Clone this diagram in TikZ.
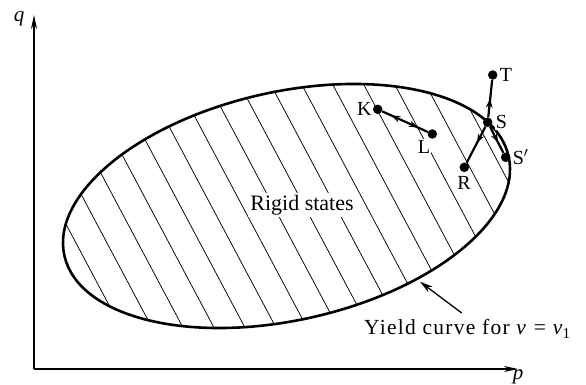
\documentclass[tikz,border=0pt]{standalone}
\usepackage{fontspec}
\setmainfont{Liberation Serif}
\newfontfamily\widefont[LetterSpace=6]{Liberation Serif}
\usetikzlibrary{arrows.meta,decorations.markings}
\begin{document}
\begin{tikzpicture}[x=1pt,y=1pt,
  dot/.style={circle,fill=black,inner sep=0pt,minimum size=9.5pt},
  ptlabel/.style={font=\fontsize{20}{22}\selectfont,inner sep=1pt,fill=white},
  hatch/.style={line width=0.75pt},
  curve/.style={line width=2.6pt},
  axis/.style={line width=1.6pt,-{Stealth[length=14pt,width=6pt]}},
  move/.style={line width=2.2pt}
]
\useasboundingbox (0,0) rectangle (586,385);
% axes
\coordinate (O) at (34,16);
\coordinate (qend) at (34,370);
\coordinate (pend) at (518,16);
\draw[axis] (O) -- (qend);
\draw[axis] (O) -- (pend);
\node[font=\fontsize{21}{23}\selectfont\itshape] (qlab) at (19,366) {q};
\node[font=\fontsize{21}{23}\selectfont\itshape] (plab) at (518,8) {p};
% hatching
\begin{scope}
  \clip[rotate around={12.6:(286.5,179)}] (286.5,179) ellipse [x radius=227.6, y radius=114.2];
  \foreach \k in {-6,...,19} {
    \draw[hatch] ({126.7+31*\k-148.9},385) -- ({126.7+31*\k+55.8},0);
  }
\end{scope}
% yield curve
\draw[curve,rotate around={12.6:(286.5,179)}] (286.5,179) ellipse [x radius=227.6, y radius=114.2];
% labels
\node[font=\fontsize{22}{26}\selectfont,fill=white,inner sep=2pt] (rigid) at (302,180) {Rigid states};
\node[font=\fontsize{21.5}{26}\widefont,anchor=base west,inner sep=0pt] (yield) at (364,50) {Yield curve for \textit{v} = \textit{v}\kern-1pt\textsubscript{1}};
\coordinate (ptail) at (461.7,72);
\coordinate (ptip) at (420,103.3);
\draw[line width=1.3pt,-{Stealth[length=13pt,width=7pt]}] (ptail) -- (ptip);
% points
\node[dot] (K) at (377.7,275.7) {};
\node[dot] (L) at (432.3,251) {};
\node[dot] (T) at (492.7,310) {};
\node[dot] (S) at (487.7,262.7) {};
\node[dot] (S2) at (505.7,227.7) {};
\node[dot] (R) at (464.3,217.7) {};
\node[ptlabel,anchor=east] (Klab) at (K.west) {K};
\node[ptlabel] (Llab) at (424,238) {L};
\node[ptlabel,anchor=west] (Tlab) at ([xshift=1pt]T.east) {T};
\node[ptlabel,anchor=west] (Slab) at ([xshift=2pt]S.east) {S};
\node[ptlabel,anchor=west] (S2lab) at ([xshift=1pt]S2.east) {S$'$};
\node[ptlabel] (Rlab) at (464,202) {R};
% moves
\draw[move,postaction={decorate},decoration={markings,
   mark=at position 0.38 with {\arrow{Stealth[length=9pt,width=6.5pt,reversed]}},
   mark=at position 0.78 with {\arrow{Stealth[length=9pt,width=6.5pt]}}}] (K) -- (L);
\draw[move,postaction={decorate},decoration={markings,
   mark=at position 0.5 with {\arrow{Stealth[length=9pt,width=6.5pt]}}}] (S) -- (T);
\draw[move,postaction={decorate},decoration={markings,
   mark=at position 0.45 with {\arrow{Stealth[length=9pt,width=6.5pt]}}}] (S) -- (R);
\draw[move,postaction={decorate},decoration={markings,
   mark=at position 0.6 with {\arrow{Stealth[length=9pt,width=6.5pt]}}}] (S) -- (S2);
\end{tikzpicture}
\end{document}
